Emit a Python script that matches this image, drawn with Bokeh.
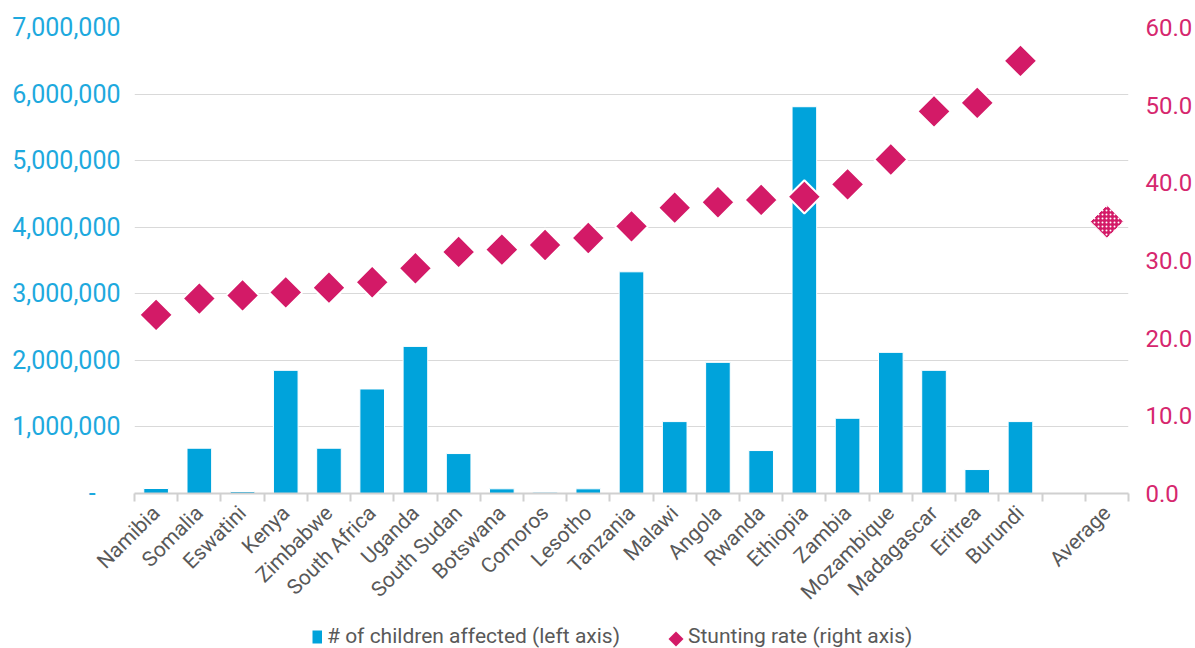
import math
from bokeh.plotting import figure
from bokeh.layouts import column
from bokeh.models import (Range1d, LinearAxis, FixedTicker, NumeralTickFormatter,
                          ColumnDataSource, Legend, LegendItem)
from bokeh.embed import file_html
from bokeh.resources import INLINE

# Countries ordered by stunting rate; a blank slot separates the average
countries = ["Namibia", "Somalia", "Eswatini", "Kenya", "Zimbabwe", "South Africa",
             "Uganda", "South Sudan", "Botswana", "Comoros", "Lesotho", "Tanzania",
             "Malawi", "Angola", "Rwanda", "Ethiopia", "Zambia", "Mozambique",
             "Madagascar", "Eritrea", "Burundi"]
children_affected = [75000, 680000, 30000, 1850000, 680000, 1570000,
                     2210000, 600000, 70000, 20000, 70000, 3330000,
                     1080000, 1970000, 645000, 5810000, 1130000, 2120000,
                     1850000, 360000, 1080000]
stunting_rate = [23.0, 25.1, 25.5, 25.9, 26.5, 27.2,
                 29.0, 31.1, 31.4, 32.0, 32.9, 34.4,
                 36.8, 37.5, 37.8, 38.2, 39.8, 43.0,
                 49.2, 50.3, 55.7]
average_label = "Average"
average_rate = 35.0

left_ticks = [0, 1000000, 2000000, 3000000, 4000000, 5000000, 6000000, 7000000]
right_ticks = [0, 10, 20, 30, 40, 50, 60]

BLUE = "#00A3DB"
PINK = "#D31A67"
LEFT_TXT = "#1EA9DE"
RIGHT_TXT = "#D6276E"
GREY_TXT = "#595959"
FONT = "Roboto"

# page geometry shared by the chart and the legend strip
W, LEFT, RIGHT = 1195, 134, 67

labels = countries + ["", average_label]
centers = [i + 0.5 for i in range(len(labels))]
bounds = [float(i) for i in range(len(labels) + 1)]

src = ColumnDataSource(dict(x=centers[:len(countries)], n=children_affected,
                            r=stunting_rate))
avg_src = ColumnDataSource(dict(x=[centers[-1]], r=[average_rate]))

p = figure(width=W, height=615, output_backend="svg", toolbar_location=None,
           x_range=Range1d(0, len(labels)), y_range=Range1d(0, 7000000),
           min_border_left=LEFT, min_border_right=RIGHT, min_border_top=27,
           min_border_bottom=122)
p.outline_line_color = None
p.background_fill_color = "white"
p.border_fill_color = "white"
p.extra_y_ranges = {"rate": Range1d(0, 60)}

p.vbar(x="x", top="n", width=0.57, source=src, fill_color=BLUE,
       line_color="white", line_width=1)
p.scatter(x="x", y="r", source=src, y_range_name="rate", marker="square",
          angle=math.pi / 4, size=23.5, fill_color=PINK, line_color="white",
          line_width=2)
p.scatter(x="x", y="r", source=avg_src, y_range_name="rate", marker="square",
          angle=math.pi / 4, size=23.5, fill_color=PINK, line_color="white",
          line_width=1, hatch_pattern=".", hatch_color="white", hatch_scale=4,
          hatch_weight=1.2)

# grid
p.xgrid.grid_line_color = None
p.ygrid.ticker = FixedTicker(ticks=left_ticks)
p.ygrid.grid_line_color = "#D9D9D9"
p.ygrid.grid_line_width = 1

# left axis
la = p.yaxis[0]
la.ticker = FixedTicker(ticks=left_ticks)
la.formatter = NumeralTickFormatter(format="0,0")
la.major_label_overrides = {0: "-" + "\u00a0" * 4}
la.axis_line_color = None
la.major_tick_line_color = None
la.minor_tick_line_color = None
la.major_tick_out = 0
la.major_label_text_color = LEFT_TXT
la.major_label_text_font = FONT
la.major_label_text_font_size = "25px"
la.major_label_standoff = 14

# right axis
ra = LinearAxis(y_range_name="rate", ticker=FixedTicker(ticks=right_ticks),
                formatter=NumeralTickFormatter(format="0.0"))
ra.axis_line_color = None
ra.major_tick_line_color = None
ra.minor_tick_line_color = None
ra.major_tick_out = 0
ra.major_label_text_color = RIGHT_TXT
ra.major_label_text_font = FONT
ra.major_label_text_font_size = "24px"
ra.major_label_standoff = 17
p.add_layout(ra, "right")

# category axis: labels at centres, tick marks at boundaries
xa = p.xaxis[0]
xa.ticker = FixedTicker(ticks=centers, minor_ticks=bounds)
xa.major_label_overrides = {c: lab for c, lab in zip(centers, labels)}
xa.major_label_orientation = math.pi / 4
xa.major_label_text_color = GREY_TXT
xa.major_label_text_font = FONT
xa.major_label_text_font_size = "21px"
xa.major_label_standoff = 8
xa.major_tick_line_color = None
xa.major_tick_out = 0
xa.major_tick_in = 0
xa.minor_tick_line_color = "#D0D0D0"
xa.minor_tick_line_width = 2
xa.minor_tick_out = 8
xa.minor_tick_in = 0
xa.axis_line_color = "#D0D0D0"
xa.axis_line_width = 2

# legend strip under the chart (x in page pixels, y from strip bottom)
lf = figure(width=W, height=33, output_backend="svg", toolbar_location=None,
            x_range=Range1d(LEFT, W - RIGHT), y_range=Range1d(0, 33),
            x_axis_location=None, y_axis_location=None,
            min_border_left=LEFT, min_border_right=RIGHT,
            min_border_top=0, min_border_bottom=0)
lf.outline_line_color = None
lf.grid.visible = False
lf.background_fill_color = "white"
lf.border_fill_color = "white"

bar_key = lf.line(x=[-20, -10], y=[-20, -10], line_color=BLUE, line_width=13,
                  line_cap="butt")
rate_slot = lf.scatter(x=[-20], y=[-20], marker="square", fill_alpha=0,
                       line_alpha=0)
# diamond key, rotated like the chart markers
lf.scatter(x=[675.5], y=[9.5], marker="square", angle=math.pi / 4, size=10.6,
           fill_color=PINK, line_color=None)


def make_legend(item, loc, gw):
    return Legend(items=[item], location=loc, orientation="horizontal",
                  glyph_width=gw, glyph_height=19, label_height=19,
                  label_standoff=5, padding=0, margin=0, spacing=0,
                  border_line_color=None, background_fill_alpha=0,
                  label_text_font=FONT, label_text_font_size="21px",
                  label_text_color=GREY_TXT)


lf.add_layout(make_legend(LegendItem(label="# of children affected (left axis)",
                                     renderers=[bar_key]), (178, 0), 10))
lf.add_layout(make_legend(LegendItem(label="Stunting rate (right axis)",
                                     renderers=[rate_slot]), (534, 0), 15))

page = column(p, lf, spacing=0)
open("out.html", "w").write(file_html(page, INLINE))
